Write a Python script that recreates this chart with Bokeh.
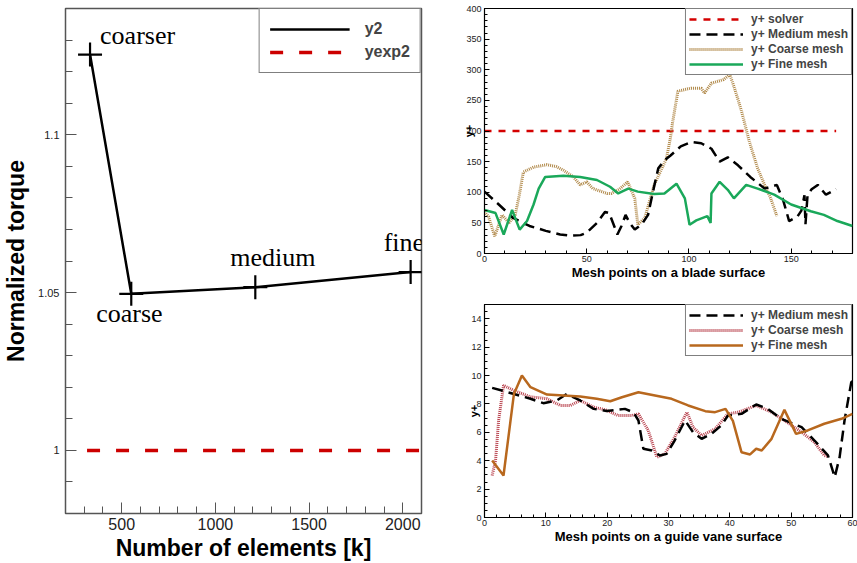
from bokeh.plotting import figure
from bokeh.layouts import row, column
from bokeh.models import Range1d, FixedTicker, Legend, LegendItem, ColumnDataSource
from bokeh.core.properties import value
from bokeh.embed import file_html
from bokeh.resources import INLINE
import numpy as np

# ---------------- data ----------------
# Left: grid convergence
elements = [331, 551, 1213, 2042]
torque = [1.1254, 1.0496, 1.0517, 1.0565]
mesh_names = ["coarser", "coarse", "medium", "fine"]
exp_elements = [315, 2100]
exp_torque = [1.0, 1.0]

# Top right: y+ on a blade surface
solver_x = [0, 172]
solver_y = [200, 200]
blade_med_x = [0, 7, 14, 22, 30, 37, 42, 47, 50, 55, 59, 61, 65, 67, 69, 71, 73.5, 77, 80, 83, 85, 88, 91,
               96, 101, 106, 111, 115, 119, 124, 130, 137, 143, 146, 149, 153, 155, 156.5, 157, 158, 160, 163, 167, 172]
blade_med_y = [101, 80, 58, 45, 37, 31, 29, 30, 34, 50, 68, 66, 31, 45, 63, 50, 39, 48, 63, 110, 139, 152, 160,
               175, 182, 180, 171, 150, 157, 144, 125, 106, 112, 88, 53, 60, 70, 95, 48, 95, 105, 112, 96, 105]
blade_coarse_x = [0, 2, 5, 8.6, 12, 15, 17, 19, 24, 30.5, 35, 38.6, 43.5, 46.8, 50, 53, 60, 62, 66, 70, 73.5, 75,
                  78.4, 83, 89, 91, 92, 94.6, 101, 106, 107.6, 111, 117, 120, 122, 125.5, 129.6, 133.6, 137, 140, 143]
blade_coarse_y = [68, 60, 28, 63, 50, 63, 95, 133, 141, 145, 142, 136, 125, 112, 117, 106, 98, 98, 105, 117, 90, 47,
                  58, 112, 155, 190, 214, 265, 270, 270, 262, 278, 284, 292, 273, 235, 182, 139, 112, 90, 61]
blade_fine_x = [0, 5.4, 9.4, 13.5, 17.2, 20.8, 24, 26.5, 29.7, 38.6, 46.8, 55, 61.4, 65.4, 70.3, 75, 83, 88, 93.9,
                98, 100.3, 103.6, 109, 110.6, 111, 115, 119, 122, 128, 133.6, 141.7, 150, 159.6, 166, 172.6, 180]
blade_fine_y = [71, 66, 31, 71, 39, 53, 80, 106, 125, 127, 125, 120, 109, 98, 106, 101, 97, 98, 114,
                90, 47, 54, 61, 50, 98, 117, 104, 90, 112, 106, 96, 80, 69, 63, 53, 45]

# Bottom right: y+ on a guide vane surface
vane_med_x = [1.25, 4.8, 7.5, 9.6, 11.8, 13.4, 15.6, 17.8, 19.9, 22.9, 24.3, 25.1, 25.9, 27.3, 28.6, 29.7, 31,
              32.7, 34, 35.4, 37, 38.6, 39.7, 41.9, 44.3, 46.2, 48.4, 51.7, 53.8, 56, 57.1, 57.9, 58.7, 59.8, 60]
vane_med_y = [9.13, 8.7, 8.36, 8.05, 8.24, 8.7, 8.24, 7.65, 7.5, 7.65, 7.4, 6.83, 4.84, 4.72, 4.37, 4.48, 5.42,
              6.83, 6.01, 5.54, 5.89, 6.48, 7.18, 7.3, 7.96, 7.65, 6.95, 6.36, 5.42, 4.37, 2.84, 4.25, 6.83, 9.53, 9.6]
vane_coarse_x = [1.25, 1.8, 2.3, 3.1, 4.8, 7.5, 10.2, 12.4, 14, 15.6, 17.8, 19.7, 21.8, 24, 25.1, 26.7, 28.1, 29.4,
                 31, 33, 34, 35.4, 37.6, 39.7, 41.4, 44.3, 46.8, 48.9, 51.7, 53.8, 55.4, 56]
vane_coarse_y = [2.96, 4.0, 6.83, 9.3, 8.94, 8.5, 8.36, 7.89, 7.89, 8.24, 7.77, 7.58, 7.18, 7.18, 7.3, 6.13, 4.25, 4.48,
                 5.66, 7.42, 6.36, 5.77, 6.24, 7.3, 7.42, 7.89, 7.42, 6.83, 6.01, 5.3, 4.37, 4.3]
vane_fine_x = [1.25, 3.1, 4.8, 6.1, 7.5, 10.2, 12.9, 15.6, 18.3, 20.5, 22.4, 25.1, 27.8, 30.5, 33.2, 36, 37.6, 39.3,
               40.5, 41.9, 43.3, 44.3, 45.2, 46.8, 48.9, 50.8, 52.7, 55.4, 58.2, 60]
vane_fine_y = [4.01, 2.96, 8.7, 10.0, 9.18, 8.66, 8.59, 8.52, 8.36, 8.19, 8.47, 8.82, 8.59, 8.36, 7.89, 7.49, 7.42, 7.65,
               6.8, 4.6, 4.44, 4.84, 4.72, 5.54, 7.58, 5.89, 6.13, 6.6, 6.95, 7.3]

# ---------------- styling helpers ----------------
SANS = "Liberation Sans"
SERIF = "Liberation Serif"


def style_axis(ax, tick_size, label_size, major_in, minor_in, line_color, label_standoff, major_standoff):
    ax.major_tick_in = major_in
    ax.major_tick_out = 0
    ax.minor_tick_in = minor_in
    ax.minor_tick_out = 0
    ax.axis_line_color = line_color
    ax.major_tick_line_color = line_color
    ax.minor_tick_line_color = line_color
    ax.major_label_text_font = SANS
    ax.major_label_text_font_size = tick_size
    ax.major_label_text_color = "#222222"
    ax.axis_label_text_font = SANS
    ax.axis_label_text_font_style = "bold"
    ax.axis_label_text_font_size = label_size
    ax.axis_label_text_color = "black"
    ax.axis_label_standoff = label_standoff
    ax.major_label_standoff = major_standoff


# ---------------- left figure ----------------
p1 = figure(width=430, height=563, x_range=Range1d(200, 2100), y_range=Range1d(0.98, 1.14),
            output_backend="svg", toolbar_location=None,
            min_border_left=61, min_border_right=9, min_border_top=8, min_border_bottom=46)
p1.grid.visible = False
p1.outline_line_color = "#555555"
p1.outline_line_width = 1.5
p1.background_fill_color = "white"
p1.border_fill_color = "white"

r_exp = p1.line(exp_elements, exp_torque, line_color="#cc0000", line_width=3.5, line_dash="13 16")
r_y2 = p1.line(elements, torque, line_color="black", line_width=2.5)
p1.scatter(elements, torque, marker="cross", size=24, line_color="black", line_width=2.2)

label_dx = [10, -35, -25, -27]
label_dy = [-19, 20, -30, -30]
src_lab = ColumnDataSource(dict(x=elements, y=torque, t=mesh_names, dx=label_dx, dy=label_dy))
p1.text(x="x", y="y", text="t", x_offset="dx", y_offset="dy", source=src_lab,
        text_font=value(SERIF), text_font_size="26px", text_color="black",
        text_align="left", text_baseline="alphabetic")

p1.xaxis.axis_label = "Number of elements [k]"
p1.yaxis.axis_label = "Normalized torque"
p1.xaxis.ticker = FixedTicker(ticks=[500, 1000, 1500, 2000], minor_ticks=list(range(300, 2101, 100)))
p1.yaxis.ticker = FixedTicker(ticks=[1.0, 1.05, 1.1],
                              minor_ticks=[round(v, 2) for v in np.arange(0.99, 1.135, 0.01)])
p1.yaxis.major_label_overrides = {1.0: "1", 1.05: "1.05", 1.1: "1.1"}
style_axis(p1.xaxis[0], "16px", "23px", 11, 7, "#555555", 2, 4)
style_axis(p1.yaxis[0], "11px", "23px", 11, 7, "#555555", 6, 6)

leg1 = Legend(items=[LegendItem(label="y2", renderers=[r_y2]), LegendItem(label="yexp2", renderers=[r_exp])],
              location="top_right", margin=0, padding=10, spacing=3,
              glyph_width=80, glyph_height=20, label_height=20, label_standoff=15,
              label_text_font=SANS, label_text_font_style="bold", label_text_font_size="16px",
              border_line_color="black", border_line_width=1, background_fill_alpha=1)
p1.add_layout(leg1)

# ---------------- top right figure ----------------
SOLVER_RED = "#d40000"
TAN = "#b08848"
GREEN = "#1aa85a"

p2 = figure(width=427, height=282, x_range=Range1d(0, 180), y_range=Range1d(0, 400),
            output_backend="svg", toolbar_location=None,
            min_border_left=54, min_border_right=5, min_border_top=8, min_border_bottom=26)
p2.grid.visible = False
p2.outline_line_color = "black"
p2.outline_line_width = 1.2

r_sol = p2.line(solver_x, solver_y, line_color=SOLVER_RED, line_width=2.5, line_dash="7 7")
r_bc = p2.line(blade_coarse_x, blade_coarse_y, line_color=TAN, line_width=3, line_dash="1 1")
r_bm = p2.line(blade_med_x, blade_med_y, line_color="black", line_width=2.5, line_dash="11 6")
r_bf = p2.line(blade_fine_x, blade_fine_y, line_color=GREEN, line_width=2.5)

p2.xaxis.axis_label = "Mesh points on a blade surface"
p2.yaxis.axis_label = "y+"
p2.xaxis.ticker = FixedTicker(ticks=[0, 50, 100, 150], minor_ticks=list(range(0, 181, 10)))
p2.yaxis.ticker = FixedTicker(ticks=list(range(0, 401, 50)), minor_ticks=list(range(0, 401, 10)))
style_axis(p2.xaxis[0], "9px", "13px", 5, 3, "black", 0, 2)
style_axis(p2.yaxis[0], "9px", "11px", 5, 3, "black", -12, 3)

leg2 = Legend(items=[LegendItem(label="y+ solver", renderers=[r_sol]),
                     LegendItem(label="y+ Medium mesh", renderers=[r_bm]),
                     LegendItem(label="y+ Coarse mesh", renderers=[r_bc]),
                     LegendItem(label="y+ Fine mesh", renderers=[r_bf])],
              location="top_right", margin=0, padding=3, spacing=1,
              glyph_width=54, glyph_height=14, label_height=14, label_standoff=8,
              label_text_font=SANS, label_text_font_style="bold", label_text_font_size="12px",
              border_line_color="black", border_line_width=1, background_fill_alpha=1)
p2.add_layout(leg2)

# ---------------- bottom right figure ----------------
PINK = "#b8404c"
BROWN = "#b8681e"

p3 = figure(width=427, height=281, x_range=Range1d(0, 60), y_range=Range1d(0, 15),
            output_backend="svg", toolbar_location=None,
            min_border_left=54, min_border_right=5, min_border_top=22, min_border_bottom=46)
p3.grid.visible = False
p3.outline_line_color = "black"
p3.outline_line_width = 1.2

r_vc = p3.line(vane_coarse_x, vane_coarse_y, line_color=PINK, line_width=3, line_dash="1 1")
r_vm = p3.line(vane_med_x, vane_med_y, line_color="black", line_width=2.5, line_dash="11 6")
r_vf = p3.line(vane_fine_x, vane_fine_y, line_color=BROWN, line_width=2.5)

p3.xaxis.axis_label = "Mesh points on a guide vane surface"
p3.yaxis.axis_label = "y+"
p3.xaxis.ticker = FixedTicker(ticks=list(range(0, 61, 10)), minor_ticks=list(range(0, 61, 2)))
p3.yaxis.ticker = FixedTicker(ticks=list(range(0, 15, 2)), minor_ticks=[v * 0.5 for v in range(0, 31)])
style_axis(p3.xaxis[0], "9px", "13px", 5, 3, "black", 0, 2)
style_axis(p3.yaxis[0], "9px", "11px", 5, 3, "black", -12, 3)

leg3 = Legend(items=[LegendItem(label="y+ Medium mesh", renderers=[r_vm]),
                     LegendItem(label="y+ Coarse mesh", renderers=[r_vc]),
                     LegendItem(label="y+ Fine mesh", renderers=[r_vf])],
              location="top_right", margin=0, padding=3, spacing=1,
              glyph_width=54, glyph_height=14, label_height=14, label_standoff=8,
              label_text_font=SANS, label_text_font_style="bold", label_text_font_size="12px",
              border_line_color="black", border_line_width=1, background_fill_alpha=1)
p3.add_layout(leg3)

layout = row(p1, column(p2, p3, spacing=0), spacing=0)
open("out.html", "w").write(file_html(layout, INLINE))
